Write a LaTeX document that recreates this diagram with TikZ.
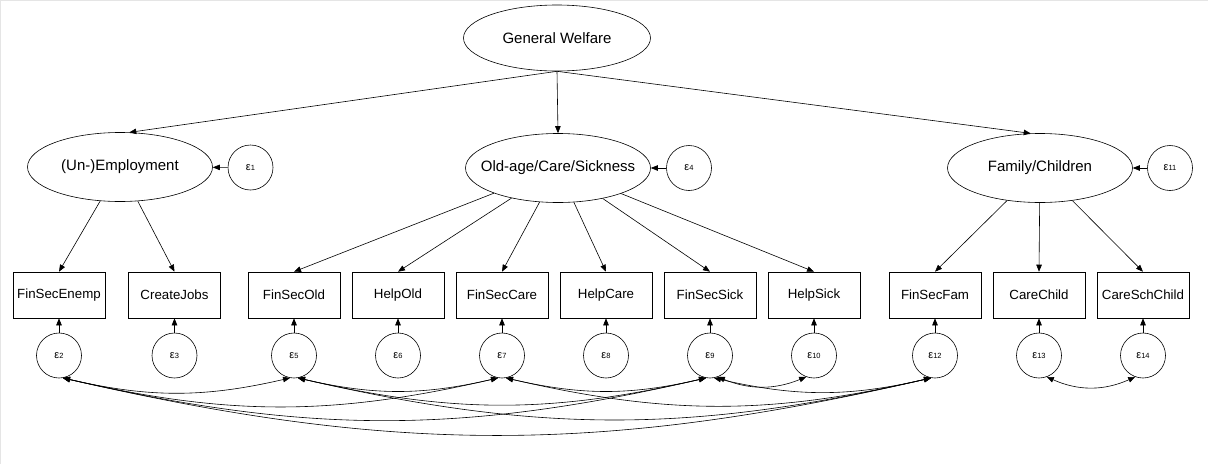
\documentclass[tikz,border=0pt]{standalone}
\usepackage{fontspec}
\setmainfont{Liberation Sans}
\usetikzlibrary{arrows.meta,shapes.geometric}
\newcommand{\epslab}[1]{{\fontsize{11}{11}\selectfont ε}{\fontsize{7.5}{7.5}\selectfont #1}}
\begin{document}
\begin{tikzpicture}[x=1pt,y=1pt,
  lat/.style={ellipse,draw,line width=0.6pt,minimum width=185pt,minimum height=69pt,inner ysep=0pt,inner xsep=-20pt,font=\fontsize{15}{15}\selectfont},
  obs/.style={rectangle,draw,line width=0.6pt,minimum width=92pt,minimum height=46pt,inner sep=0pt,font=\fontsize{13.3}{13.3}\selectfont},
  err/.style={circle,draw,line width=0.6pt,minimum size=45pt,inner sep=0pt},
  arr/.style={line width=0.6pt,-{Triangle[length=7pt,width=5.5pt]}},
  cov/.style={line width=0.6pt,{Triangle[length=7pt,width=5.5pt]}-{Triangle[length=7pt,width=5.5pt]}},
]
\useasboundingbox (0,0) rectangle (1208,-464);
\draw[gray!20] (0.5,0) -- (0.5,-464);
\draw[gray!20] (0,-0.5) -- (1208,-0.5);

% latent variables
\node[lat,minimum width=187pt,minimum height=66pt] (GW) at (557,-38) {General Welfare};
\node[lat] (U) at (120,-167) {(Un-)Employment};
\node[lat] (O) at (558,-168) {Old-age/Care/Sickness};
\node[lat] (F) at (1040,-168) {Family/Children};
\node[err] (e1) at (250.5,-167.5) {\epslab{1}};
\node[err] (e4) at (689,-168) {\epslab{4}};
\node[err] (e11) at (1170,-168) {\epslab{11}};

% observed variables
\node[obs] (b2) at (59,-295) {FinSecEnemp};
\node[obs] (b3) at (174.5,-295) {CreateJobs};
\node[obs] (b5) at (294,-295) {FinSecOld};
\node[obs] (b6) at (398,-295) {HelpOld};
\node[obs] (b7) at (502,-295) {FinSecCare};
\node[obs] (b8) at (606,-295) {HelpCare};
\node[obs] (b9) at (710,-295) {FinSecSick};
\node[obs] (b10) at (814,-295) {HelpSick};
\node[obs] (b12) at (935,-295) {FinSecFam};
\node[obs] (b13) at (1039,-295) {CareChild};
\node[obs] (b14) at (1143,-295) {CareSchChild};

% error terms
\foreach \i/\x in {2/59,3/174.5,5/294,6/398,7/502,8/606,9/710,10/814,12/935,13/1039,14/1143}{
  \node[err] (e\i) at (\x,-355.5) {\epslab{\i}};
  \draw[arr] (e\i) -- (b\i);
}

% structural paths
\draw[arr] (GW.south) -- (U.75);
\draw[arr] (GW.south) -- (O.north);
\draw[arr] (GW.south) -- (F.105);
\draw[arr] (e1) -- (U);
\draw[arr] (e4) -- (O);
\draw[arr] (e11) -- (F);

% measurement paths
\foreach \b in {b2,b3} \draw[arr] (U) -- (\b.north);
\foreach \b in {b5,b6,b7,b8,b9,b10} \draw[arr] (O) -- (\b.north);
\foreach \b in {b12,b13,b14} \draw[arr] (F) -- (\b.north);

% covariances
\foreach \a/\b in {e2/e5,e2/e7,e2/e9,e2/e12,e5/e7,e5/e9,e5/e12,e7/e9,e7/e12,e9/e12}
  \draw[cov] (\a.-80) to[bend right=13] (\b.-100);
\draw[cov] (e9.-70) to[bend right=22] (e10.-110);
\draw[cov] (e13.-70) to[bend right=24] (e14.-110);
\end{tikzpicture}
\end{document}
